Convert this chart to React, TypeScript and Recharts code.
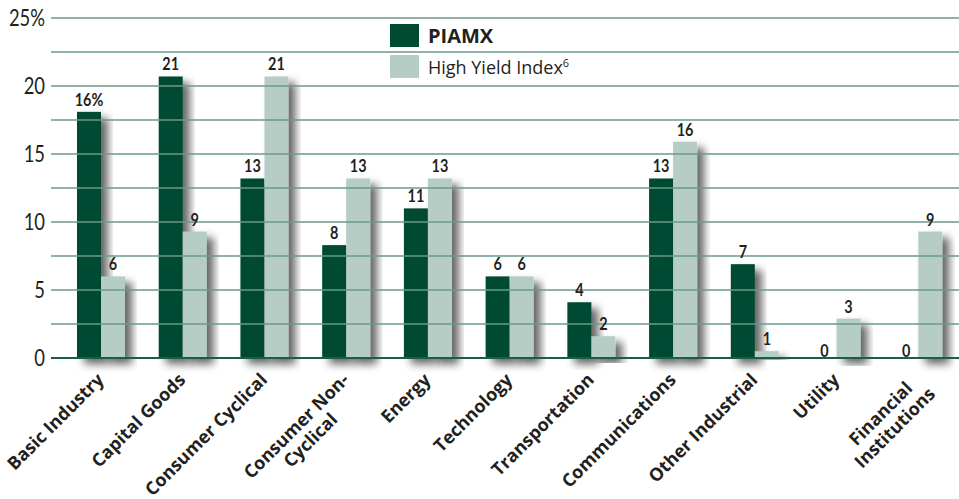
import React from 'react';
import { BarChart, Bar, XAxis, YAxis, ReferenceLine, LabelList, Legend } from 'recharts';

const categories = [
  'Basic Industry',
  'Capital Goods',
  'Consumer Cyclical',
  'Consumer Non-Cyclical',
  'Energy',
  'Technology',
  'Transportation',
  'Communications',
  'Other Industrial',
  'Utility',
  'Financial Institutions',
];
const categoryLines = [
  ['Basic Industry'],
  ['Capital Goods'],
  ['Consumer Cyclical'],
  ['Consumer Non-', 'Cyclical'],
  ['Energy'],
  ['Technology'],
  ['Transportation'],
  ['Communications'],
  ['Other Industrial'],
  ['Utility'],
  ['Financial', 'Institutions'],
];
// bar heights as drawn in the picture
const piamx = [18.1, 20.7, 13.2, 8.3, 11, 6, 4.1, 13.2, 6.9, 0, 0];
const highYield = [6, 9.3, 20.7, 13.2, 13.2, 6, 1.6, 15.9, 0.5, 2.9, 9.3];
// printed labels
const piamxLabels = ['16%', '21', '13', '8', '11', '6', '4', '13', '7', '0', '0'];
const highYieldLabels = ['6', '9', '21', '13', '13', '6', '2', '16', '1', '3', '9'];
const yTicks = [0, 5, 10, 15, 20, 25];
const gridValues = [2.5, 5, 7.5, 10, 12.5, 15, 17.5, 20, 22.5, 25];

const DARK = '#004a32';
const LIGHT = '#b6cdc5';
const GRID = '#6a9a8a';
const TEXT = '#231f20';
const NUM_FONT = '"Lato", sans-serif';
const LABEL_FONT = '"Open Sans", sans-serif';

const data = categories.map((name, i) => ({
  name,
  piamx: piamx[i],
  highYield: highYield[i],
  piamxLabel: piamxLabels[i],
  highYieldLabel: highYieldLabels[i],
}));

let measureCtx: CanvasRenderingContext2D | null = null;
const measure = (s: string, font: string) => {
  if (!measureCtx) measureCtx = document.createElement('canvas').getContext('2d');
  if (!measureCtx) return s.length * 10;
  measureCtx.font = font;
  return measureCtx.measureText(s).width;
};

const CategoryTick = (props: any) => {
  const { x, y, index } = props;
  const lines = categoryLines[index] || [];
  const fontSize = 18;
  const widest = Math.max(...lines.map((l) => measure(l, `700 ${fontSize}px "Open Sans"`)));
  return (
    <g transform={`translate(${x + 4},${y + 15}) rotate(-45)`}>
      {lines.map((l, i) => (
        <text
          key={l}
          x={-widest / 2}
          y={i * 20}
          textAnchor="middle"
          fontFamily={LABEL_FONT}
          fontWeight={700}
          fontSize={fontSize}
          fill={TEXT}
        >
          {l}
        </text>
      ))}
    </g>
  );
};

// condensed-looking numbers for the value axis
const ValueTick = (props: any) => {
  const { x, y, payload } = props;
  const label = payload.value === 25 ? '25%' : String(payload.value);
  return (
    <text
      transform={`translate(${x},${y}) scale(0.8,1)`}
      dy="0.36em"
      textAnchor="end"
      fontFamily={NUM_FONT}
      fontSize={23}
      fill={TEXT}
    >
      {label}
    </text>
  );
};

const ValueLabel = (props: any) => {
  const { x, y, width, height, value } = props;
  const ty = height > 0.5 ? y - 6 : y - 1;
  return (
    <text
      transform={`translate(${x + width / 2},${ty}) scale(0.85,1)`}
      textAnchor="middle"
      fontFamily={NUM_FONT}
      fontWeight={700}
      fontSize={17}
      fill={TEXT}
    >
      {value}
    </text>
  );
};

const ShadowBar = (props: any) => {
  const { x, y, width, height, fill } = props;
  if (!height || height <= 0) return <g />;
  return <rect x={x} y={y} width={width} height={height} fill={fill} filter="url(#barShadow)" />;
};

const LegendBox = () => (
  <div style={{ fontFamily: LABEL_FONT, color: TEXT }}>
    <div style={{ display: 'flex', alignItems: 'center', height: 31 }}>
      <span style={{ width: 29, height: 23, background: DARK, display: 'inline-block' }} />
      <span style={{ marginLeft: 9, fontWeight: 700, fontSize: 20 }}>PIAMX</span>
    </div>
    <div style={{ display: 'flex', alignItems: 'center', height: 31 }}>
      <span style={{ width: 29, height: 23, background: LIGHT, display: 'inline-block' }} />
      <span style={{ marginLeft: 9, fontSize: 18 }}>
        High Yield Index<sup style={{ fontSize: 11 }}>6</sup>
      </span>
    </div>
  </div>
);

export default function App() {
  return (
    <div style={{ position: 'absolute', left: 0, top: 0, width: 959, height: 499, background: '#fff' }}>
      <svg width={0} height={0} style={{ position: 'absolute' }}>
        <defs>
          <filter id="barShadow" x="-50%" y="-20%" width="200%" height="140%">
            <feDropShadow dx={7} dy={6} stdDeviation={4.5} floodColor="#000" floodOpacity={0.6} />
          </filter>
        </defs>
      </svg>
      <BarChart
        width={959}
        height={499}
        data={data}
        margin={{ top: 18, right: 0, bottom: 0, left: 0 }}
        barGap={0}
        barSize={24}
      >
        {gridValues.map((v) => (
          <ReferenceLine key={v} y={v} stroke={GRID} strokeWidth={1.5} ifOverflow="extendDomain" />
        ))}
        <XAxis
          dataKey="name"
          height={141}
          interval={0}
          tick={<CategoryTick />}
          tickLine={false}
          axisLine={{ stroke: '#1d5c45', strokeWidth: 2 }}
          padding={{ left: 9, right: 0 }}
        />
        <YAxis
          width={51}
          domain={[0, 25]}
          ticks={yTicks}
          axisLine={false}
          tickLine={false}
          tickSize={4}
          tickMargin={2}
          tick={<ValueTick />}
        />
        <Legend
          layout="vertical"
          align="center"
          verticalAlign="middle"
          content={<LegendBox />}
          wrapperStyle={{ position: 'absolute', top: 20, left: 390, width: 'auto' }}
        />
        <Bar dataKey="piamx" name="PIAMX" fill={DARK} shape={<ShadowBar />} isAnimationActive={false}>
          <LabelList dataKey="piamxLabel" content={<ValueLabel />} />
        </Bar>
        <Bar dataKey="highYield" name="High Yield Index" fill={LIGHT} shape={<ShadowBar />} isAnimationActive={false}>
          <LabelList dataKey="highYieldLabel" content={<ValueLabel />} />
        </Bar>
      </BarChart>
    </div>
  );
}
